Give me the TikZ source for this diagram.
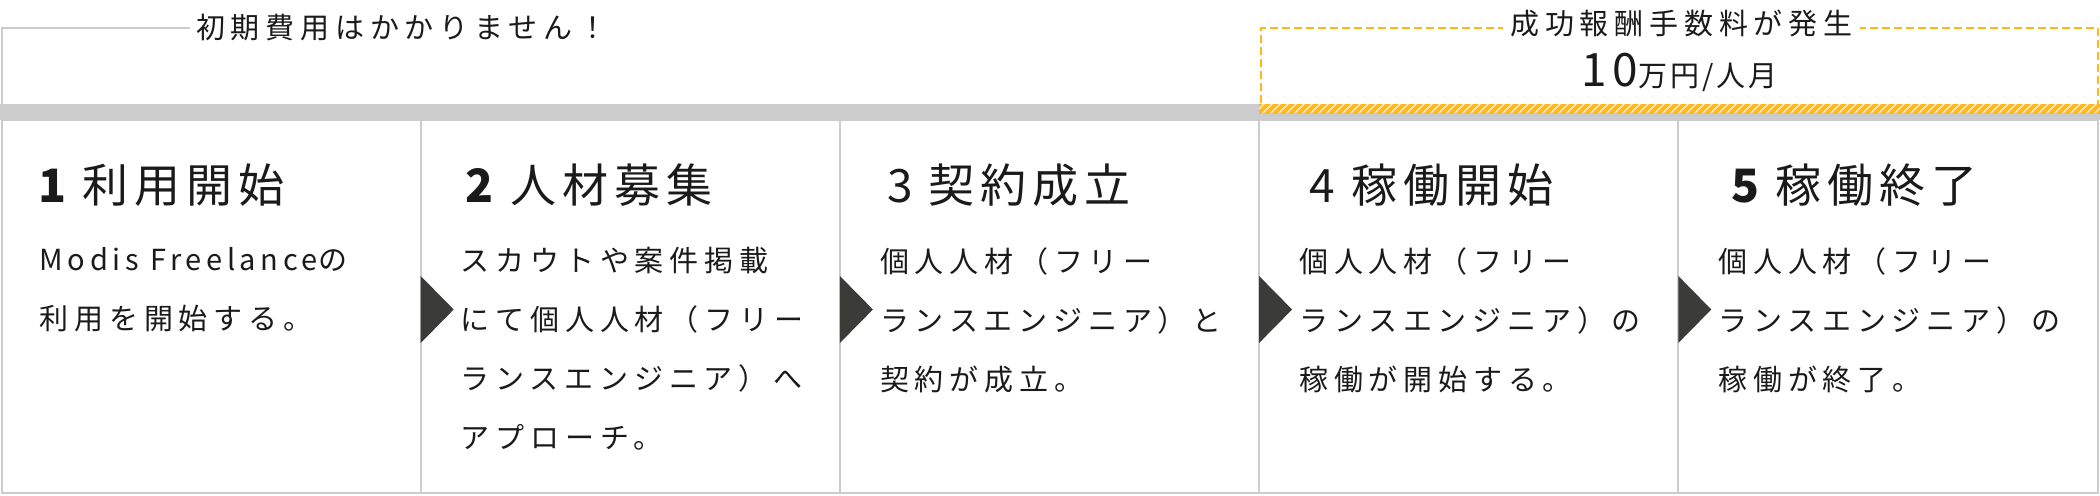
\documentclass[tikz,border=0pt]{standalone}
\usepackage{xcolor}
\usepackage{fontspec}
\setmainfont{Noto Sans CJK JP}
\newfontfamily\bodyfont[LetterSpace=20]{Noto Sans CJK JP}
\newfontfamily\latinfont[LetterSpace=16]{Noto Sans CJK JP}
\newfontfamily\headfont[LetterSpace=13]{Noto Sans CJK JP}
\newfontfamily\pricefont[LetterSpace=10]{Noto Sans CJK JP}
\usepackage{tikz}
\usetikzlibrary{calc}
\usetikzlibrary{positioning}
\definecolor{linegray}{HTML}{CCCCCC}
\definecolor{fee}{HTML}{FFB81C}
\definecolor{feelight}{HTML}{FFE6B0}
\definecolor{arrowgray}{HTML}{3B3C3A}
\definecolor{ink}{HTML}{1A1A1A}
\tikzstyle{stepbox} = [rectangle, draw=linegray, line width=2pt, minimum width=419.2pt, minimum height=373pt, inner sep=0, outer sep=0, anchor=north west]
\tikzstyle{steptitle} = [draw=none, inner sep=0, anchor=base west, text=ink, font=\headfont\fontsize{46}{46}\selectfont]
\tikzstyle{stepbody} = [draw=none, inner sep=0, anchor=north west, align=left, text=ink, font=\bodyfont\fontsize{29}{59}\selectfont]
\tikzstyle{note} = [draw=none, inner ysep=0, inner xsep=7pt, text=ink, font=\bodyfont\fontsize{29}{29}\selectfont]

\begin{document}
\begin{tikzpicture}[x=1pt, y=-1pt]
\useasboundingbox (0,0) rectangle (2100,495);
% top labels
\node [fill=linegray, minimum width=2100pt, minimum height=16pt, inner sep=0, anchor=north west] (bar) at (0,104) {};
\node [draw=fee, line width=2pt, dash pattern=on 8pt off 4pt, minimum width=837pt, minimum height=83pt, inner sep=0] (feebox) at (1679.5,69.5) {};
\node [note, anchor=base west, inner xsep=6pt] (free) at (190,39) {初期費用はかかりません！};
\coordinate (corner) at (2,104);
\draw [draw=linegray, line width=2pt] (free.west) -| (corner);
\node [note, anchor=base, fill=white] (feelabel) at ($(feebox.north)+(2,8)$) {成功報酬手数料が発生};
\node [note, anchor=base, font=\pricefont\fontsize{29}{29}\selectfont] (price) at ($(feebox.north)+(0,59)$) {{\headfont\fontsize{46}{46}\selectfont 10}万円/人月};
\begin{scope}
\clip ($(feebox.south west)+(-1,-8)$) rectangle ($(feebox.south east)+(1,1)$);
\fill [feelight] ($(feebox.south west)+(-1,-8)$) rectangle ($(feebox.south east)+(1,1)$);
\foreach \x in {1240,1248,...,2110}
  \draw [draw=fee, line width=3.8pt] (\x,116) -- (\x+14,102);
\end{scope}
% steps
\node [stepbox] (S1) at (1.5,120) {};
\node [stepbox] (S2) at (S1.north east) {};
\node [stepbox] (S3) at (S2.north east) {};
\node [stepbox] (S4) at (S3.north east) {};
\node [stepbox] (S5) at (S4.north east) {};
\foreach \s in {S1,S2,S3,S4}
  \fill [arrowgray] ($(\s.east)+(0,-30.5)$) -- ($(\s.east)+(33,3)$) -- ($(\s.east)+(0,36.5)$) -- cycle;
\node [steptitle] (T1) at ($(S1.north west)+(37,82)$) {{\bfseries 1}\ 利用開始};
\node [steptitle] (T2) at ($(S2.north west)+(45,82)$) {{\bfseries 2}\ 人材募集};
\node [steptitle] (T3) at ($(S3.north west)+(47,82)$) {3\ 契約成立};
\node [steptitle] (T4) at ($(S4.north west)+(50,82)$) {4\ 稼働開始};
\node [steptitle] (T5) at ($(S5.north west)+(53,82)$) {{\bfseries 5}\ 稼働終了};
\node [stepbody] (D1) at ($(S1.north west)+(38,127)$) {{\latinfont Modis Freelance}の\\利用を開始する。};
\node [stepbody] (D2) at ($(S2.north west)+(40,127)$) {スカウトや案件掲載\\にて個人人材（フリー\\ランスエンジニア）へ\\アプローチ。};
\node [stepbody] (D3) at ($(S3.north west)+(40,127)$) {個人人材（フリー\\ランスエンジニア）と\\契約が成立。};
\node [stepbody] (D4) at ($(S4.north west)+(40,127)$) {個人人材（フリー\\ランスエンジニア）の\\稼働が開始する。};
\node [stepbody] (D5) at ($(S5.north west)+(40,127)$) {個人人材（フリー\\ランスエンジニア）の\\稼働が終了。};
\end{tikzpicture}
\end{document}
